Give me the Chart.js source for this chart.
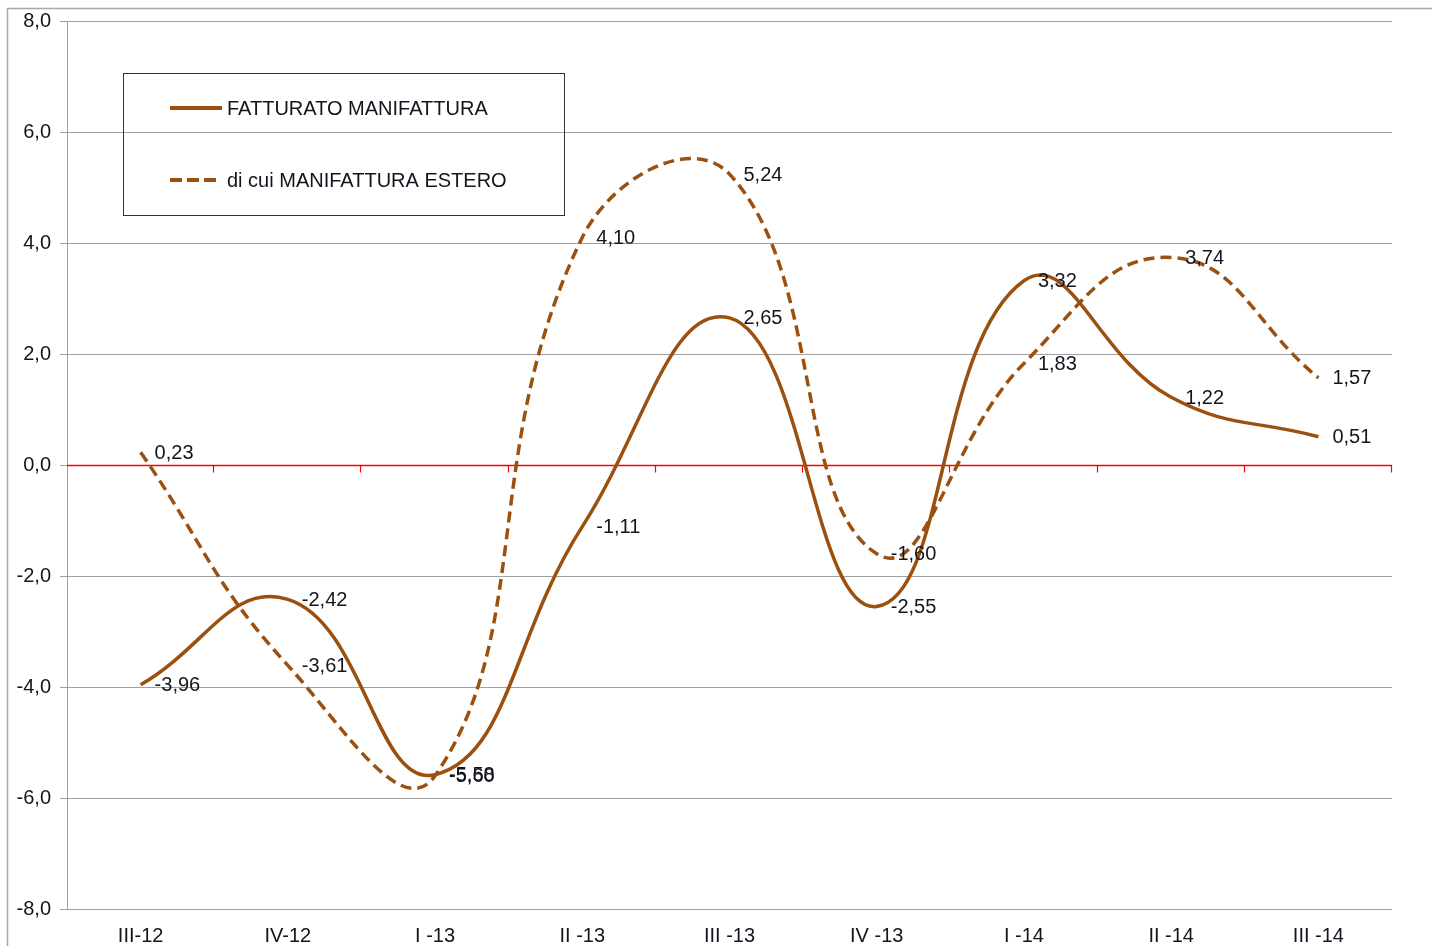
<!DOCTYPE html>
<html>
<head>
<meta charset="utf-8">
<script src="https://cdn.jsdelivr.net/npm/chart.js@4.4.1/dist/chart.umd.min.js"></script>
<style>
  html, body { margin: 0; padding: 0; background: #ffffff; }
  #wrap { width: 1432px; height: 946px; position: relative; }
</style>
</head>
<body>
<div id="wrap"><canvas id="c" width="1432" height="946"></canvas></div>
<script>
// Quarterly categories
const categories = ['III-12', 'IV-12', 'I -13', 'II -13', 'III -13', 'IV -13', 'I -14', 'II -14', 'III -14'];
// Series values (% change)
const fatturato = [-3.96, -2.42, -5.58, -1.11, 2.65, -2.55, 3.32, 1.22, 0.51];
const estero    = [0.23, -3.61, -5.60, 4.10, 5.24, -1.60, 1.83, 3.74, 1.57];
const seriesNames = ['FATTURATO MANIFATTURA', 'di cui MANIFATTURA ESTERO'];
// Value axis range
const yMin = -8, yMax = 8, yStep = 2;

const FONT = '"Liberation Sans", Arial, sans-serif';
const TEXT = '#14141e';
const BROWN = 'rgb(155, 80, 15)';
const GRID = '#a0a0a0';
const fmt = v => v.toFixed(2).replace('.', ',');

// Outer frame around the chart
const framePlugin = {
  id: 'frame',
  beforeDraw(chart) {
    const ctx = chart.ctx;
    ctx.save();
    ctx.strokeStyle = '#a8a8a8';
    ctx.lineWidth = 1.5;
    ctx.beginPath();
    ctx.moveTo(7.5, chart.height + 2);
    ctx.lineTo(7.5, 8.5);
    ctx.lineTo(chart.width + 2, 8.5);
    ctx.stroke();
    ctx.restore();
  }
};

// Red horizontal axis at zero with tick marks between categories
const zeroAxisPlugin = {
  id: 'zeroAxis',
  beforeDatasetsDraw(chart) {
    const { ctx, chartArea, scales } = chart;
    const y0 = Math.floor(scales.y.getPixelForValue(0)) + 0.5;
    ctx.save();
    ctx.strokeStyle = '#ff0000';
    ctx.lineWidth = 1.5;
    ctx.beginPath();
    ctx.moveTo(chartArea.left, y0);
    ctx.lineTo(chartArea.right, y0);
    ctx.stroke();
    ctx.lineWidth = 1.2;
    ctx.beginPath();
    const n = categories.length;
    for (let i = 0; i < n; i++) {
      const a = scales.x.getPixelForValue(i);
      const bx = i + 1 < n
        ? Math.round((a + scales.x.getPixelForValue(i + 1)) / 2) - 0.5
        : Math.round(chartArea.right) - 0.5;
      ctx.moveTo(bx, y0);
      ctx.lineTo(bx, y0 + 7);
    }
    ctx.stroke();
    ctx.restore();
  }
};

// Value labels to the right of each point
const valueLabelPlugin = {
  id: 'valueLabels',
  afterDatasetsDraw(chart) {
    const ctx = chart.ctx;
    ctx.save();
    ctx.font = '20px ' + FONT;
    ctx.fillStyle = TEXT;
    ctx.textAlign = 'left';
    ctx.textBaseline = 'middle';
    chart.data.datasets.forEach((ds, di) => {
      const meta = chart.getDatasetMeta(di);
      meta.data.forEach((el, i) => {
        ctx.fillText(fmt(ds.data[i]), el.x + 14, el.y + 1);
      });
    });
    ctx.restore();
  }
};

// Boxed legend inside the plot
const boxLegendPlugin = {
  id: 'boxLegend',
  afterDraw(chart) {
    const ctx = chart.ctx;
    ctx.save();
    ctx.strokeStyle = '#333333';
    ctx.lineWidth = 1;
    ctx.strokeRect(123.5, 73.5, 441, 142);
    const rows = [108, 180];
    chart.data.datasets.forEach((ds, i) => {
      const y = rows[i];
      ctx.strokeStyle = ds.borderColor;
      ctx.lineWidth = 4;
      ctx.setLineDash(ds.borderDash ? [12, 5] : []);
      ctx.beginPath();
      ctx.moveTo(170, y);
      ctx.lineTo(i === 0 ? 222 : 218, y);
      ctx.stroke();
      ctx.setLineDash([]);
      ctx.font = '20px ' + FONT;
      ctx.fillStyle = TEXT;
      ctx.textAlign = 'left';
      ctx.textBaseline = 'middle';
      ctx.fillText(ds.label, 227, y + 1);
    });
    ctx.restore();
  }
};

new Chart(document.getElementById('c'), {
  type: 'line',
  data: {
    labels: categories,
    datasets: [
      {
        label: seriesNames[0],
        data: fatturato,
        borderColor: BROWN,
        borderWidth: 3.5,
        tension: 0.45,
        pointRadius: 0,
        fill: false
      },
      {
        label: seriesNames[1],
        data: estero,
        borderColor: BROWN,
        borderWidth: 3.5,
        borderDash: [11, 6],
        tension: 0.45,
        pointRadius: 0,
        fill: false
      }
    ]
  },
  options: {
    responsive: false,
    animation: false,
    devicePixelRatio: 1,
    layout: { padding: { top: 20, right: 40, bottom: 0, left: 0 } },
    plugins: {
      legend: { display: false },
      tooltip: { enabled: false }
    },
    scales: {
      x: {
        type: 'category',
        offset: true,
        grid: { display: false, drawTicks: false },
        border: { display: false },
        ticks: {
          color: TEXT,
          font: { family: FONT, size: 20 },
          padding: 15,
          maxRotation: 0,
          autoSkip: false
        },
        afterFit(s) { s.height = 37; }
      },
      y: {
        min: yMin,
        max: yMax,
        grid: {
          color: c => (c.tick && Math.abs(c.tick.value) < 1e-9) ? 'rgba(0,0,0,0)' : GRID,
          tickColor: GRID,
          tickLength: 7,
          lineWidth: 1
        },
        border: { color: GRID, width: 1 },
        ticks: {
          stepSize: yStep,
          color: TEXT,
          font: { family: FONT, size: 20 },
          padding: 9,
          callback: v => Number(v).toFixed(1).replace('.', ',')
        },
        afterFit(s) { s.width = 67; }
      }
    }
  },
  plugins: [framePlugin, zeroAxisPlugin, valueLabelPlugin, boxLegendPlugin]
});
</script>
</body>
</html>
